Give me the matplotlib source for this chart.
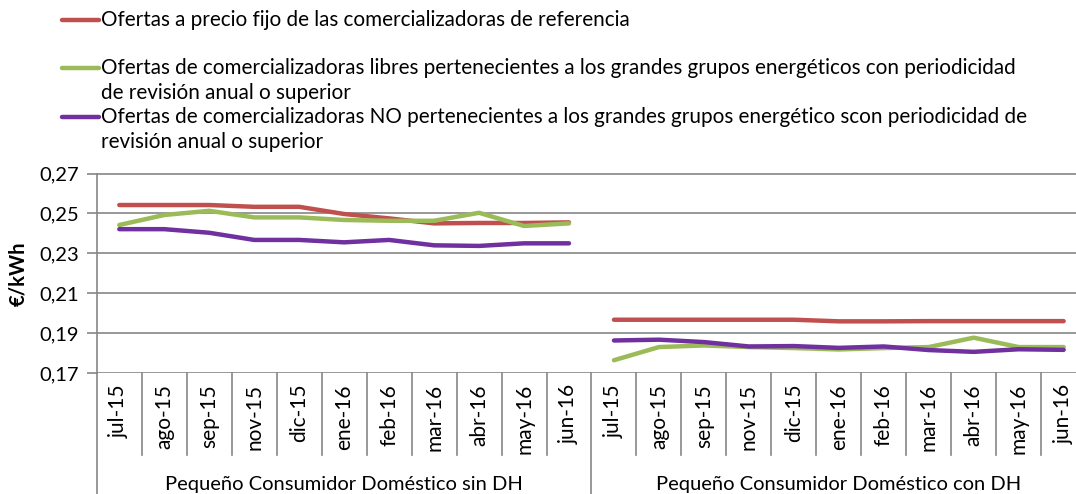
import matplotlib.pyplot as plt
from matplotlib.lines import Line2D

plt.rcParams['font.family'] = ['Lato', 'DejaVu Sans']

# Datos
meses = ["jul-15", "ago-15", "sep-15", "nov-15", "dic-15", "ene-16",
         "feb-16", "mar-16", "abr-16", "may-16", "jun-16"]
grupos = ["Pequeño Consumidor Doméstico sin DH", "Pequeño Consumidor Doméstico con DH"]

series_nombres = [
    "Ofertas a precio fijo de las comercializadoras de referencia",
    "Ofertas de comercializadoras libres pertenecientes a los grandes grupos energéticos con periodicidad\nde revisión anual o superior",
    "Ofertas de comercializadoras NO pertenecientes a los grandes grupos energético scon periodicidad de\nrevisión anual o superior",
]
colores = ["#C0504D", "#9BBB59", "#7030A0"]

ref_sin_dh = [0.2542, 0.2542, 0.2542, 0.2533, 0.2533, 0.2497, 0.2475, 0.2450, 0.2452, 0.2452, 0.2455]
ref_con_dh = [0.1967, 0.1967, 0.1967, 0.1967, 0.1967, 0.1959, 0.1959, 0.1960, 0.1960, 0.1960, 0.1960]
libres_sin_dh = [0.2442, 0.2492, 0.2513, 0.2480, 0.2480, 0.2467, 0.2463, 0.2463, 0.2503, 0.2437, 0.2450]
libres_con_dh = [0.1764, 0.1830, 0.1838, 0.1830, 0.1825, 0.1818, 0.1825, 0.1830, 0.1877, 0.1830, 0.1830]
no_sin_dh = [0.2421, 0.2421, 0.2403, 0.2367, 0.2367, 0.2355, 0.2367, 0.2340, 0.2337, 0.2350, 0.2350]
no_con_dh = [0.1863, 0.1867, 0.1855, 0.1833, 0.1835, 0.1826, 0.1833, 0.1815, 0.1806, 0.1819, 0.1816]

yticks = [0.17, 0.19, 0.21, 0.23, 0.25, 0.27]

fig = plt.figure(figsize=(10.76, 4.94), dpi=100)
W, H = 1076, 494
ax_left, ax_right, ax_top, ax_bot = 96.8, 96.8 + 22 * 44.97, 173.5, 373
ax = fig.add_axes([ax_left / W, 1 - ax_bot / H, (ax_right - ax_left) / W, (ax_bot - ax_top) / H])

n = len(meses)
x1 = list(range(n))
x2 = list(range(n, 2 * n))
datos = [(ref_sin_dh, ref_con_dh), (libres_sin_dh, libres_con_dh), (no_sin_dh, no_con_dh)]
for (s1, s2), c in zip(datos, colores):
    ax.plot(x1, s1, color=c, lw=3.2, solid_capstyle='round', zorder=3)
    ax.plot(x2, s2, color=c, lw=3.2, solid_capstyle='round', zorder=3)

gris = "#868686"
ax.set_xlim(-0.5, 2 * n - 0.5)
ax.set_ylim(0.17, 0.27)
ax.set_yticks(yticks)
ax.set_yticklabels([f"{v:.2f}".replace(".", ",") for v in yticks], fontsize=14.5)
ax.tick_params(axis='y', length=7, color=gris, width=1.2, pad=6)
ax.set_xticks([])
ax.grid(axis='y', color=gris, lw=1.2)
for s in ["top", "right", "bottom"]:
    ax.spines[s].set_visible(False)
ax.spines["left"].set_color(gris)
ax.spines["left"].set_linewidth(1.2)
ax.set_ylabel("€/kWh", fontsize=14.5, fontweight='bold', labelpad=8)

# Eje de categorías
trans = ax.get_xaxis_transform()
alto = ax_bot - ax_top
for i in range(2 * n + 1):
    xb = i - 0.5
    fondo = -(494 - ax_bot) / alto if i % n == 0 else -(455 - ax_bot) / alto
    ax.add_line(Line2D([xb, xb], [0, fondo], transform=trans, color=gris, lw=1.2, clip_on=False))
for i, m in enumerate(meses + meses):
    ax.text(i, -(384 - ax_bot) / alto, m, transform=trans, rotation=90,
            ha='center', va='top', fontsize=15)
for g, nombre in enumerate(grupos):
    ax.text(g * n + (n - 1) / 2, -(484 - ax_bot) / alto, nombre, transform=trans,
            ha='center', va='center', fontsize=14.5)

# Leyenda
leyenda_y = [20, 68, 117]
for nombre, c, yy in zip(series_nombres, colores, leyenda_y):
    fig.add_artist(Line2D([62 / W, 99 / W], [1 - yy / H, 1 - yy / H], color=c, lw=3.2,
                          solid_capstyle='round'))
    fig.text(101 / W, 1 - (yy - 10) / H, nombre, fontsize=14.9, va='top', ha='left',
             linespacing=1.33)

fig.savefig("out.png", dpi=100)
